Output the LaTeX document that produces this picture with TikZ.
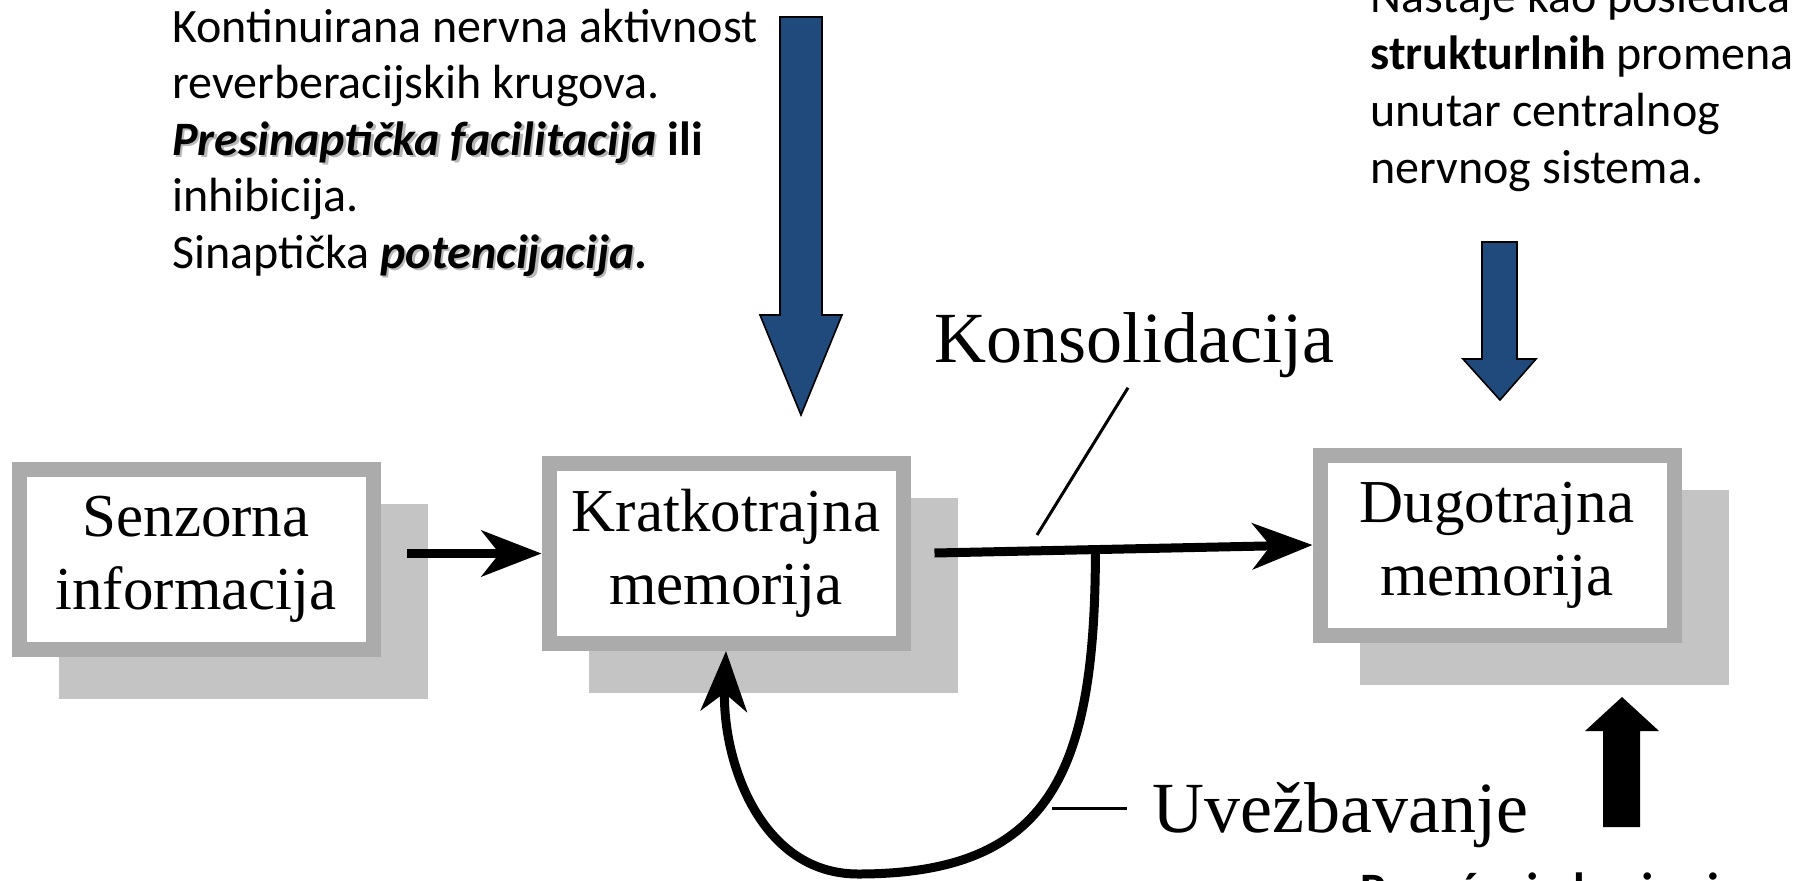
\documentclass[tikz,border=0pt]{standalone}
\usepackage{fontspec}
\setmainfont{Liberation Serif}
\newfontfamily\calibri{Carlito}
\usetikzlibrary{arrows.meta,shadows,calc}

\definecolor{arrowblue}{RGB}{33,74,124}
\colorlet{framegray}{black!33}
\colorlet{shadegray}{black!23}

% bold italic words with a soft shadow
\newcommand{\glowtext}[1]{\rlap{\kern1.2pt\raisebox{-1.2pt}{\color{black!28}#1}}#1}

\tikzset{
  membox/.style={draw=framegray, line width=7.5pt, fill=white, align=center,
    minimum width=177pt, minimum height=90pt, inner sep=0pt,
    font=\fontsize{30.5}{36.5}\selectfont,
    general shadow={fill=shadegray, draw=shadegray, line width=7.5pt,
      shadow xshift=23.5pt, shadow yshift=-21pt}},
  txt/.style={font=\calibri\fontsize{24}{28.4}\selectfont, inner sep=0pt, anchor=base west},
  tag/.style={font=\fontsize{36}{43}\selectfont, inner sep=0pt},
  flow/.style={line width=4.5pt, -{Stealth[length=30pt,width=23pt,inset=9pt]}},
  lead/.style={line width=1.5pt},
  bigarrow/.style={fill=arrowblue, draw=black, line width=0.8pt},
}

\begin{document}
\begin{tikzpicture}[x=0.5pt, y=-0.5pt]
\useasboundingbox (0,0) rectangle (1806,880);
\clip (0,0) rectangle (1806,880);

% notes, upper left
\node[txt] (n1) at (172,42) {Kontinuirana nervna aktivnost};
\node[txt] (n2) at (172,98.5) {reverberacijskih krugova.};
\node[txt] (n3) at (172,155) {\textbf{\textit{\glowtext{Presinaptička facilitacija}}} \textbf{ili}};
\node[txt] (n4) at (172,211.5) {inhibicija.};
\node[txt] (n5) at (172,268) {Sinaptička \textbf{\textit{\glowtext{potencijacija}}}\textbf{.}};

% notes, upper right
\node[txt] (m1) at (1370,12) {Nastaje kao posledica};
\node[txt] (m2) at (1370,69) {\textbf{strukturlnih} promena};
\node[txt] (m3) at (1370,126) {unutar centralnog};
\node[txt] (m4) at (1370,183) {nervnog sistema.};

% block arrows
\filldraw[bigarrow] (780,17) -- (822,17) -- (822,315) -- (842,315) -- (801,415) -- (760,315) -- (780,315) -- cycle;
\filldraw[bigarrow] (1482,242) -- (1517,242) -- (1517,359) -- (1536,359) -- (1500,400) -- (1463,359) -- (1482,359) -- cycle;
\fill[black] (1603,827) -- (1640,827) -- (1640,731) -- (1659,731) -- (1622,697) -- (1585,731) -- (1603,731) -- cycle;

% memory boxes
\node[membox] (senz) at (196,559.5) {Senzorna\\informacija};
\node[membox] (kratko) at (726,553.5) {Kratkotrajna\\memorija};
\node[membox] (dugo) at (1497,545) {Dugotrajna\\memorija};

% connectors
\draw[flow, shorten <=13pt] (senz.east |- kratko.west) -- (kratko.west);
\draw[flow, shorten <=12pt] (kratko.east) -- (dugo.west);

% rehearsal loop
\coordinate (split) at ($(kratko.east)!0.46!(dugo.west)$);
\coordinate (loop) at (858,874);
\draw[flow] (split) .. controls +(0,224) and (1050,874) .. (loop)
  .. controls (760,874) and (722,760) .. (kratko.south);

% labels
\node[tag, anchor=base] (konsol) at (1134,362) {Konsolidacija};
\coordinate (konsolfoot) at (1037,535);
\draw[lead] ([xshift=-3pt,yshift=-5pt]konsol.south) -- (konsolfoot);

\node[tag, anchor=base west] (uvez) at (1152,832) {Uvežbavanje};
\coordinate (uvezfoot) at (1052,808);
\draw[lead] (uvezfoot) -- ([xshift=-12.5pt]uvez.west |- uvezfoot);

% note, lower right (cut by the page edge)
\node[txt] (p1) at (1360,906) {\textbf{Povećanje broja sinapsi.}};
\end{tikzpicture}
\end{document}
